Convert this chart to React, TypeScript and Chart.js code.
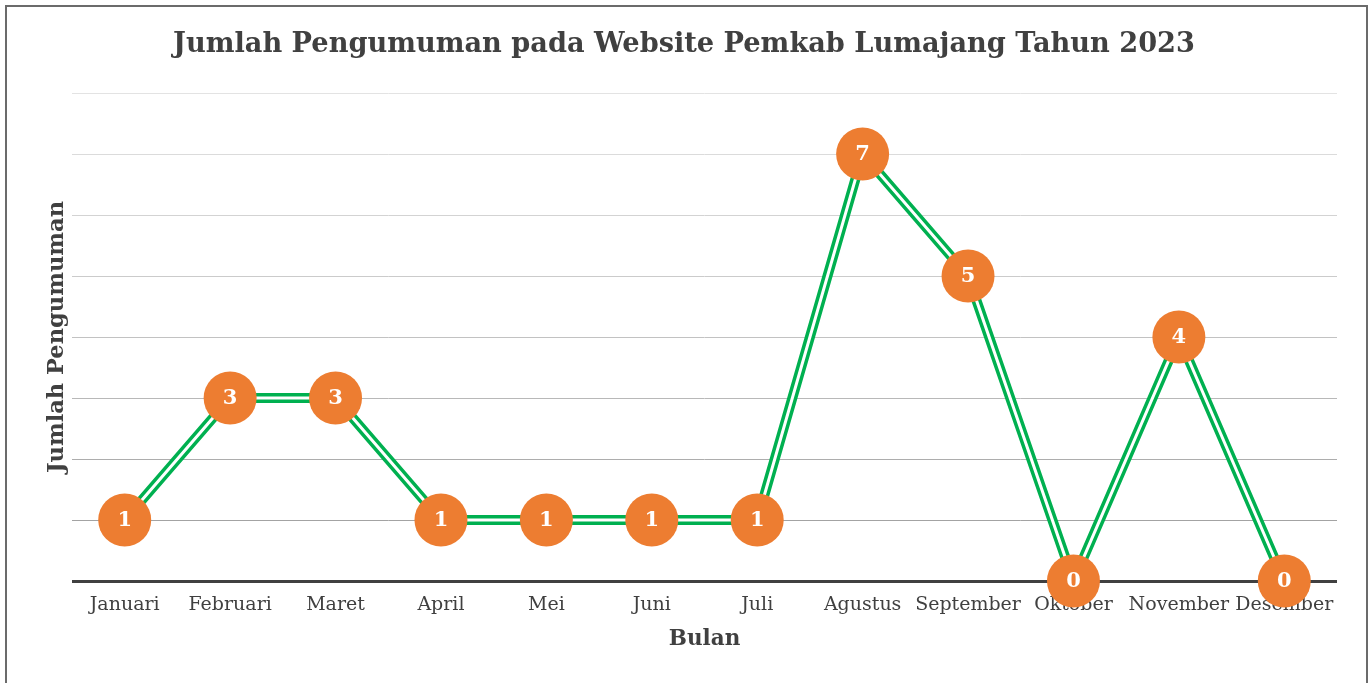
import React, { useEffect, useRef } from "react";
import { Chart, registerables } from "chart.js";

Chart.register(...registerables);

const months = [
  "Januari", "Februari", "Maret", "April", "Mei", "Juni",
  "Juli", "Agustus", "September", "Oktober", "November", "Desember",
];
const counts = [1, 3, 3, 1, 1, 1, 1, 7, 5, 0, 4, 0];
const yMin = 0;
const yMax = 8;
const yStep = 1;

const titleText = "Jumlah Pengumuman pada Website Pemkab Lumajang Tahun 2023";
const xTitle = "Bulan";
const yTitle = "Jumlah Pengumuman";

const gridShades = ["#404040", "#a3a3a3", "#adadad", "#b8b8b8", "#c2c2c2", "#cbcbcb", "#d3d3d3", "#dbdbdb", "#e3e3e3"];

const SERIF = '"DejaVu Serif", serif';
const TEXT = "#404040";

const valueLabels = {
  id: "valueLabels",
  afterDatasetsDraw(chart: any) {
    const meta = chart.getDatasetMeta(2);
    const ctx = chart.ctx;
    ctx.save();
    ctx.font = `bold 21px ${SERIF}`;
    ctx.fillStyle = "#ffffff";
    ctx.textAlign = "center";
    ctx.textBaseline = "middle";
    meta.data.forEach((el: any, i: number) => {
      ctx.fillText(String(counts[i]), el.x, el.y + 1);
    });
    ctx.restore();
  },
};

export default function App() {
  const ref = useRef<HTMLCanvasElement | null>(null);

  useEffect(() => {
    if (!ref.current) return;
    const chart = new Chart(ref.current, {
      type: "line",
      data: {
        labels: months,
        datasets: [
          {
            data: counts,
            borderColor: "#00B050",
            borderWidth: 10,
            pointRadius: 0,
            pointHoverRadius: 0,
            tension: 0,
            clip: false as any,
            order: 3,
          },
          {
            data: counts,
            borderColor: "#ffffff",
            borderWidth: 3,
            pointRadius: 0,
            pointHoverRadius: 0,
            tension: 0,
            clip: false as any,
            order: 2,
          },
          {
            data: counts,
            showLine: false,
            pointRadius: 26.5,
            pointHoverRadius: 26.5,
            pointBackgroundColor: "#ED7D31",
            pointBorderWidth: 0,
            clip: false as any,
            order: 1,
          },
        ],
      },
      options: {
        responsive: true,
        maintainAspectRatio: false,
        animation: false,
        layout: { padding: { left: 31, right: 31, top: 0, bottom: 0 } },
        plugins: {
          legend: { display: false },
          tooltip: { enabled: false },
          title: {
            display: true,
            text: titleText,
            color: TEXT,
            font: { family: SERIF, size: 27.2, weight: "bold" },
            padding: { top: 29, bottom: 31.4 },
          },
        },
        scales: {
          x: {
            offset: true,
            grid: { display: false, drawTicks: false },
            border: { display: false },
            ticks: {
              color: TEXT,
              font: { family: SERIF, size: 19 },
              padding: 13,
              maxRotation: 0,
              autoSkip: false,
            },
            title: {
              display: true,
              text: xTitle,
              color: TEXT,
              font: { family: SERIF, size: 21.5, weight: "bold" },
              padding: { top: 0, bottom: 31 },
            },
            afterFit: (s: any) => {
              s.height = 102;
            },
          },
          y: {
            min: yMin,
            max: yMax,
            ticks: { stepSize: yStep, display: false },
            border: { display: false },
            grid: {
              drawTicks: false,
              color: (c: any) => gridShades[c.tick ? c.tick.value : 0] || "#cccccc",
              lineWidth: (c: any) => (c.tick && c.tick.value === 0 ? 3 : 1),
            },
            title: {
              display: true,
              text: yTitle,
              color: TEXT,
              font: { family: SERIF, size: 22.5, weight: "bold" },
              padding: { top: 12.5, bottom: 0 },
            },
            afterFit: (s: any) => {
              s.width = 41;
            },
          },
        },
      },
      plugins: [valueLabels],
    });
    return () => chart.destroy();
  }, []);

  return (
    <div style={{ position: "fixed", left: 0, top: 0, width: 1368, height: 683, background: "#ffffff", overflow: "hidden" }}>
      <div
        style={{
          position: "absolute",
          left: 5,
          top: 5,
          width: 1359,
          height: 720,
          border: "2px solid #6b6b6b",
        }}
      />
      <div style={{ position: "absolute", left: 0, top: 0, width: 1368, height: 683 }}>
        <canvas ref={ref} />
      </div>
    </div>
  );
}
